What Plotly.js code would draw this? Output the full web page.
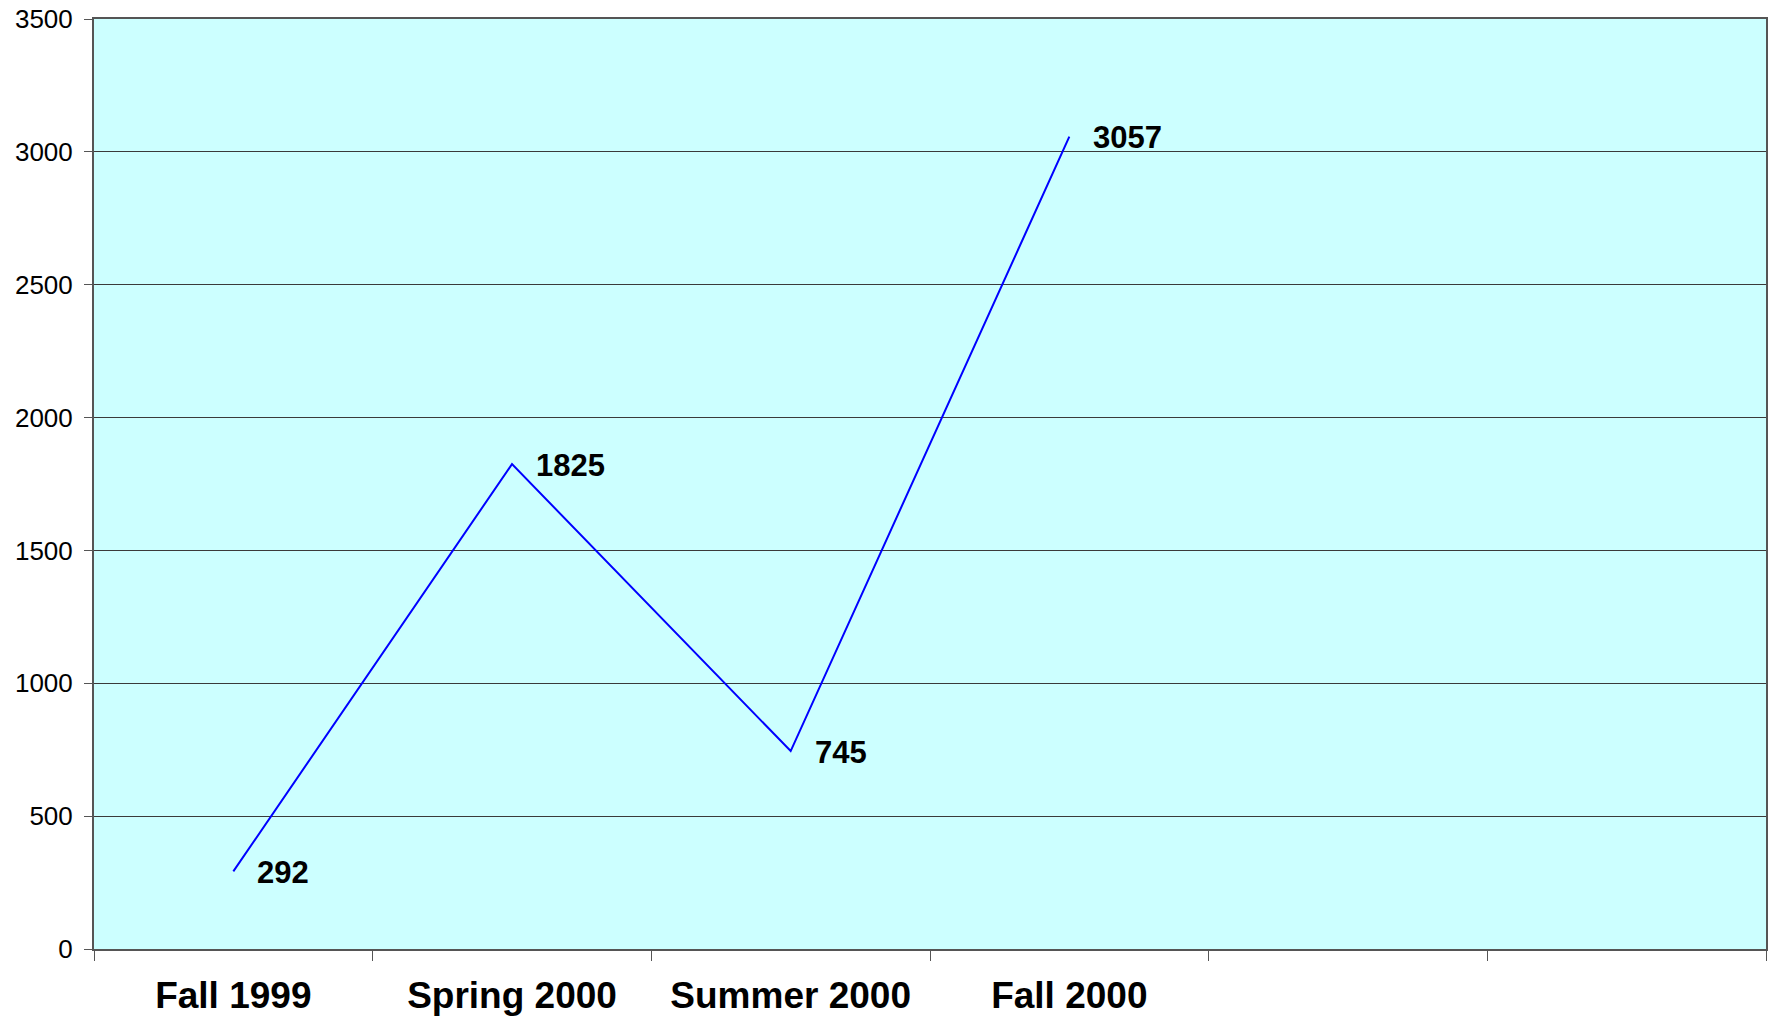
<!DOCTYPE html>
<html>
<head>
<meta charset="utf-8">
<script src="https://cdn.plot.ly/plotly-3.0.1.min.js"></script>
<style>html,body{margin:0;padding:0;background:#fff;}#chart{width:1769px;height:1016px;}</style>
</head>
<body>
<div id="chart"></div>
<script>
const categories = ['Fall 1999', 'Spring 2000', 'Summer 2000', 'Fall 2000', ' ', '  '];
const terms = ['Fall 1999', 'Spring 2000', 'Summer 2000', 'Fall 2000'];
const counts = [292, 1825, 745, 3057];
const yTicks = [0, 500, 1000, 1500, 2000, 2500, 3000, 3500];

const FONT = 'Liberation Sans, Arial, sans-serif';

const trace = {
  x: terms,
  y: counts,
  type: 'scatter',
  mode: 'lines',
  line: {color: '#0000FF', width: 2},
  hoverinfo: 'x+y'
};

const annotations = terms.map((t, i) => ({
  x: t, y: counts[i], xref: 'x', yref: 'y',
  text: '<b>' + counts[i] + '</b>',
  showarrow: false, xanchor: 'left', yanchor: 'middle',
  xshift: 22, yshift: -1,
  font: {family: FONT, size: 31, color: '#000'}
}));

const layout = {
  width: 1769, height: 1016,
  margin: {l: 94, r: 3, t: 19, b: 67},
  paper_bgcolor: '#FFFFFF',
  plot_bgcolor: '#CCFFFF',
  showlegend: false,
  font: {family: FONT, color: '#000'},
  xaxis: {
    type: 'category',
    categoryorder: 'array',
    categoryarray: categories,
    range: [-0.5, 5.5],
    tickson: 'boundaries',
    ticks: 'outside', ticklen: 10, tickwidth: 1, tickcolor: '#555',
    showgrid: false, zeroline: false,
    showline: true, linecolor: '#555', linewidth: 2, mirror: true,
    tickfont: {family: FONT, size: 37, color: '#000', weight: 'bold'},
    ticklabelstandoff: 13,
    fixedrange: true
  },
  yaxis: {
    range: [0, 3500],
    tickvals: yTicks,
    ticktext: yTicks.map(String),
    ticks: 'outside', ticklen: 8, tickwidth: 1, tickcolor: '#555',
    showgrid: true, gridcolor: '#3a3a3a', gridwidth: 1,
    zeroline: false,
    showline: true, linecolor: '#555', linewidth: 2, mirror: true,
    tickfont: {family: FONT, size: 26, color: '#000'},
    ticklabelstandoff: 6,
    fixedrange: true
  },
  annotations: annotations
};

Plotly.newPlot('chart', [trace], layout, {displayModeBar: false, staticPlot: true});
</script>
</body>
</html>
